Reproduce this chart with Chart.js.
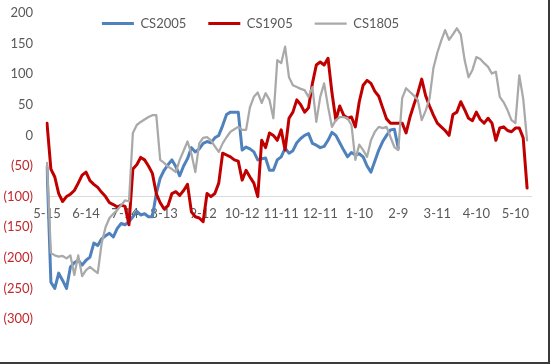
<!DOCTYPE html>
<html>
<head>
<meta charset="utf-8">
<script src="https://cdn.jsdelivr.net/npm/chart.js@4.4.1/dist/chart.umd.min.js"></script>
<style>
  html, body { margin: 0; padding: 0; background: #fff; }
  #frame { width: 550px; height: 364px; box-sizing: border-box; border-right: 2px solid #3a3a3a; border-bottom: 2px solid #3a3a3a; }
  canvas { display: block; }
</style>
</head>
<body>
<div id="frame"><canvas id="spreadChart" width="548" height="362"></canvas></div>
<script>
// tick labels, one every 10 sessions
const tickLabels = ['5-15', '6-14', '7-14', '8-13', '9-12', '10-12', '11-11', '12-11', '1-10', '2-9', '3-11', '4-10', '5-10'];
const sessionCount = 125;

const cs2005 = [
    -51, -240, -250, -225, -237, -250, -215, -208, -204, -212,
    -204, -199, -176, -180, -169, -164, -160, -166, -152, -144,
    -146, -141, -133, -124, -130, -128, -133, -133, -95, -70,
    -57, -48, -40, -51, -66, -50, -38, -20, -27, -22,
    -13, -10, -12, -4, 0, 16, 34, 38, 38, 38,
    -24, -19, -22, -27, -40, -38, -37, -57, -57, -40,
    -35, -21, -29, -25, -12, -5, 0, 3, -13, -16,
    -20, -18, -8, 5, 0, -12, -24, -35, -28, -32,
    -30, -35, -50, -60, -42, -24, -10, 0, 9, 10,
    -21
];

const cs1905 = [
    20, -55, -68, -95, -108, -100, -96, -90, -78, -65,
    -60, -74, -80, -85, -93, -100, -110, -113, -117, -114,
    -116, -146, -55, -48, -36, -40, -50, -62, -95, -110,
    -120, -115, -95, -92, -98, -90, -80, -125, -133, -135,
    -141, -95, -100, -95, -78, -29, -32, -35, -40, -42,
    -73, -57, -68, -78, -100, -8, -20, 4, 0, -8,
    9, -24, 28, 38, 58, 50, 38, 45, 85, 115,
    120, 115, 126, 70, 25, 48, 33, 28, 30, 14,
    55, 82, 90, 85, 72, 64, 45, 27, 20, 20,
    20, 20, 4, 30, 50, 69, 92, 65, 48, 33,
    20, 14, 8, 0, 34, 38, 55, 42, 28, 24,
    38, 26, 20, 28, 20, -8, 12, 14, 8, 6,
    12, 12, -4, -86
];

const cs1805 = [
    -45, -192, -196, -198, -197, -201, -196, -228, -196, -230,
    -220, -215, -220, -225, -176, -150, -135, -128, -122, -114,
    -106, -108, 4, 17, 22, 26, 30, 33, 33, -40,
    -45, -51, -55, -60, -40, -25, -10, -30, -60, -13,
    -4, -3, -8, -18, -27, -13, -3, 6, 10, 14,
    9, 9, 46, 63, 70, 53, 69, 58, 28, 123,
    118, 145, 95, 82, 79, 76, 74, 63, 79, 22,
    63, 85, 47, 14, 25, 30, 30, 28, 17, -40,
    -15, -24, -35, -8, 6, 14, 12, 14, -3, -19,
    -24, 61, 77, 71, 65, 58, 25, 40, 60, 110,
    135, 155, 172, 156, 165, 175, 165, 123, 95, 107,
    128, 125, 118, 112, 101, 104, 63, 54, 41, 25,
    20, 98, 60, -8
];

const categories = Array.from({ length: sessionCount }, (_, i) => i % 10 === 0 ? tickLabels[i / 10] : '');

const axisGray = '#595959';
const negRed = '#C0282D';

// legend floats inside the plot, like the excel one
const legendOverlay = {
    id: 'legendOverlay',
    afterLayout(chart) {
        const lg = chart.legend;
        lg.left = 0;
        lg.right = 501;
        lg.top = -5;
        lg.bottom = 60;
    }
};

function lineSet(label, data, color, width, order) {
    return {
        label: label,
        data: data,
        borderColor: color,
        backgroundColor: color,
        borderWidth: width,
        pointRadius: 0,
        tension: 0,
        borderJoinStyle: 'round',
        borderCapStyle: 'round',
        order: order
    };
}

new Chart(document.getElementById('spreadChart'), {
    type: 'line',
    data: {
        labels: categories,
        datasets: [
            lineSet('CS2005', cs2005, '#4F81BD', 3, 3),
            lineSet('CS1905', cs1905, '#C00000', 3, 2),
            lineSet('CS1805', cs1805, '#A9A9A9', 2.25, 1)
        ]
    },
    options: {
        responsive: false,
        animation: false,
        layout: { padding: { top: 12, bottom: 43, left: 0, right: 17 } },
        plugins: {
            tooltip: { enabled: false },
            legend: {
                position: 'top',
                maxHeight: 1,
                labels: {
                    usePointStyle: true,
                    pointStyle: 'line',
                    pointStyleWidth: 32,
                    padding: 22,
                    color: axisGray,
                    font: { family: 'Lato', size: 13 },
                    sort: (a, b) => a.datasetIndex - b.datasetIndex
                }
            }
        },
        scales: {
            x: {
                type: 'category',
                position: { y: -100 },
                afterFit(scale) { scale.height = 0; },
                grid: { display: false, drawTicks: false },
                border: { display: true, color: '#D9D9D9', width: 1 },
                ticks: {
                    autoSkip: false,
                    maxRotation: 0,
                    padding: 9,
                    color: axisGray,
                    font: { family: 'Lato', size: 13 },
                    callback(value) {
                        const l = this.getLabelForValue(value);
                        return l === '' ? null : l;
                    }
                }
            },
            y: {
                min: -300,
                max: 200,
                afterFit(scale) { scale.width = 47; },
                // hidden tick marks give the label gap without padding the top
                grid: { display: false, drawTicks: true, tickLength: 14 },
                border: { display: false },
                ticks: {
                    stepSize: 50,
                    padding: 0,
                    font: { family: 'Lato', size: 13 },
                    color: (ctx) => ctx.tick.value < 0 ? negRed : axisGray,
                    callback: (v) => v < 0 ? '(' + (-v) + ')' : String(v)
                }
            }
        }
    },
    plugins: [legendOverlay]
});
</script>
</body>
</html>
